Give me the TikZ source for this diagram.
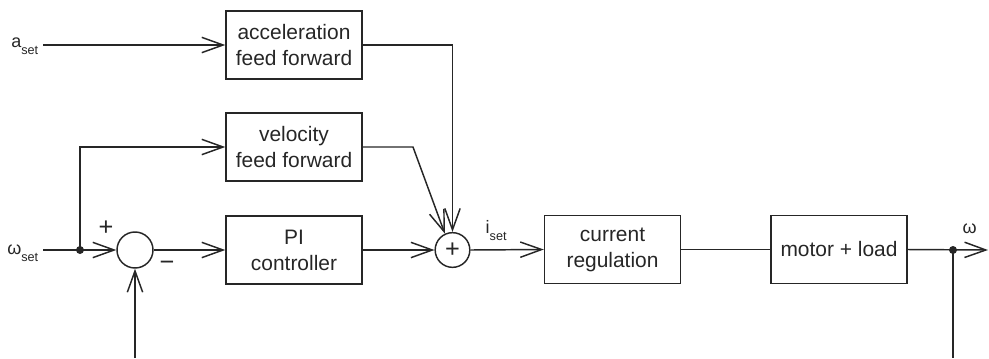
\documentclass[tikz,border=0pt]{standalone}
\usepackage{fontspec}
\setmainfont{Liberation Sans}
\usetikzlibrary{arrows.meta}
\newcommand\lowsub[1]{\raisebox{-0.42em}{\fontsize{9.5}{10}\selectfont #1}}
\begin{document}
\begin{tikzpicture}[x=0.75pt,y=-0.75pt,
  color=black!85, line width=1.1pt,
  blk/.style={draw, line width=1.1pt, minimum width=102pt, minimum height=51pt, inner sep=0pt, align=center, font=\fontsize{15.7}{19.5}\selectfont},
  sumc/.style={draw, circle, inner sep=0pt},
  arr/.style={-{Straight Barb[length=16pt,width=11.5pt,line width=1.1pt]}},
  dot/.style={circle, fill=black!85, inner sep=0pt, minimum size=6pt},
  lbl/.style={font=\fontsize{13.5}{14}\selectfont, inner sep=0pt},
  pm/.style={font=\fontsize{19}{19}\selectfont, inner sep=0pt}
]
\useasboundingbox (0,0) rectangle (989,358);
\node[blk] (acc) at (294,45) {acceleration\\feed forward};
\node[blk] (vel) at (294,147) {velocity\\feed forward};
\node[blk] (pi) at (294,250) {PI\\controller};
\node[blk] (cur) at (612.5,249.5) {current\\regulation};
\node[blk] (mot) at (839,249.5) {motor + load};
\node[sumc, minimum size=27pt] (s1) at (135,250) {};
\node[sumc, minimum size=26pt, pm] (s2) at (452.5,250) {+};
\node[dot] (d1) at (80,250) {};
\node[dot] (d2) at (953,250) {};
\node[lbl, anchor=base east] (aset) at (39,47) {a\lowsub{set}};
\node[lbl, anchor=base east] (wset) at (39,254) {ω\lowsub{set}};
\node[lbl, anchor=base west] (iset) at (485,233) {i\lowsub{set}};
\node[lbl, anchor=base west] (wout) at (962,233) {ω};
\node[pm] (plus1) at (106,228) {+};
\node[pm] (minus1) at (167,266) {−};
\coordinate (ain) at (43,45);
\coordinate (win) at (43,250);
\coordinate (fb1) at (135,358);
\coordinate (fb2) at (953,358);
\coordinate (out) at (988,250);
\coordinate (vbend) at (413,147);

\draw[arr] (ain) -- (acc.west);
\draw[arr] (acc.east) -| (s2.north);
\draw[arr] (vel.east) -- (vbend) -- (s2.115);
\draw[arr] (win) -- (s1.west);
\draw[arr] (d1.center) |- (vel.west);
\draw[arr] (s1.east) -- (pi.west);
\draw[arr] (fb1) -- (s1.south);
\draw[arr] (pi.east) -- (s2.west);
\draw[arr] (s2.east) -- (cur.west);
\draw (cur.east) -- (mot.west);
\draw[arr] (mot.east) -- (out);
\draw (d2.center) -- (fb2);
\end{tikzpicture}
\end{document}
